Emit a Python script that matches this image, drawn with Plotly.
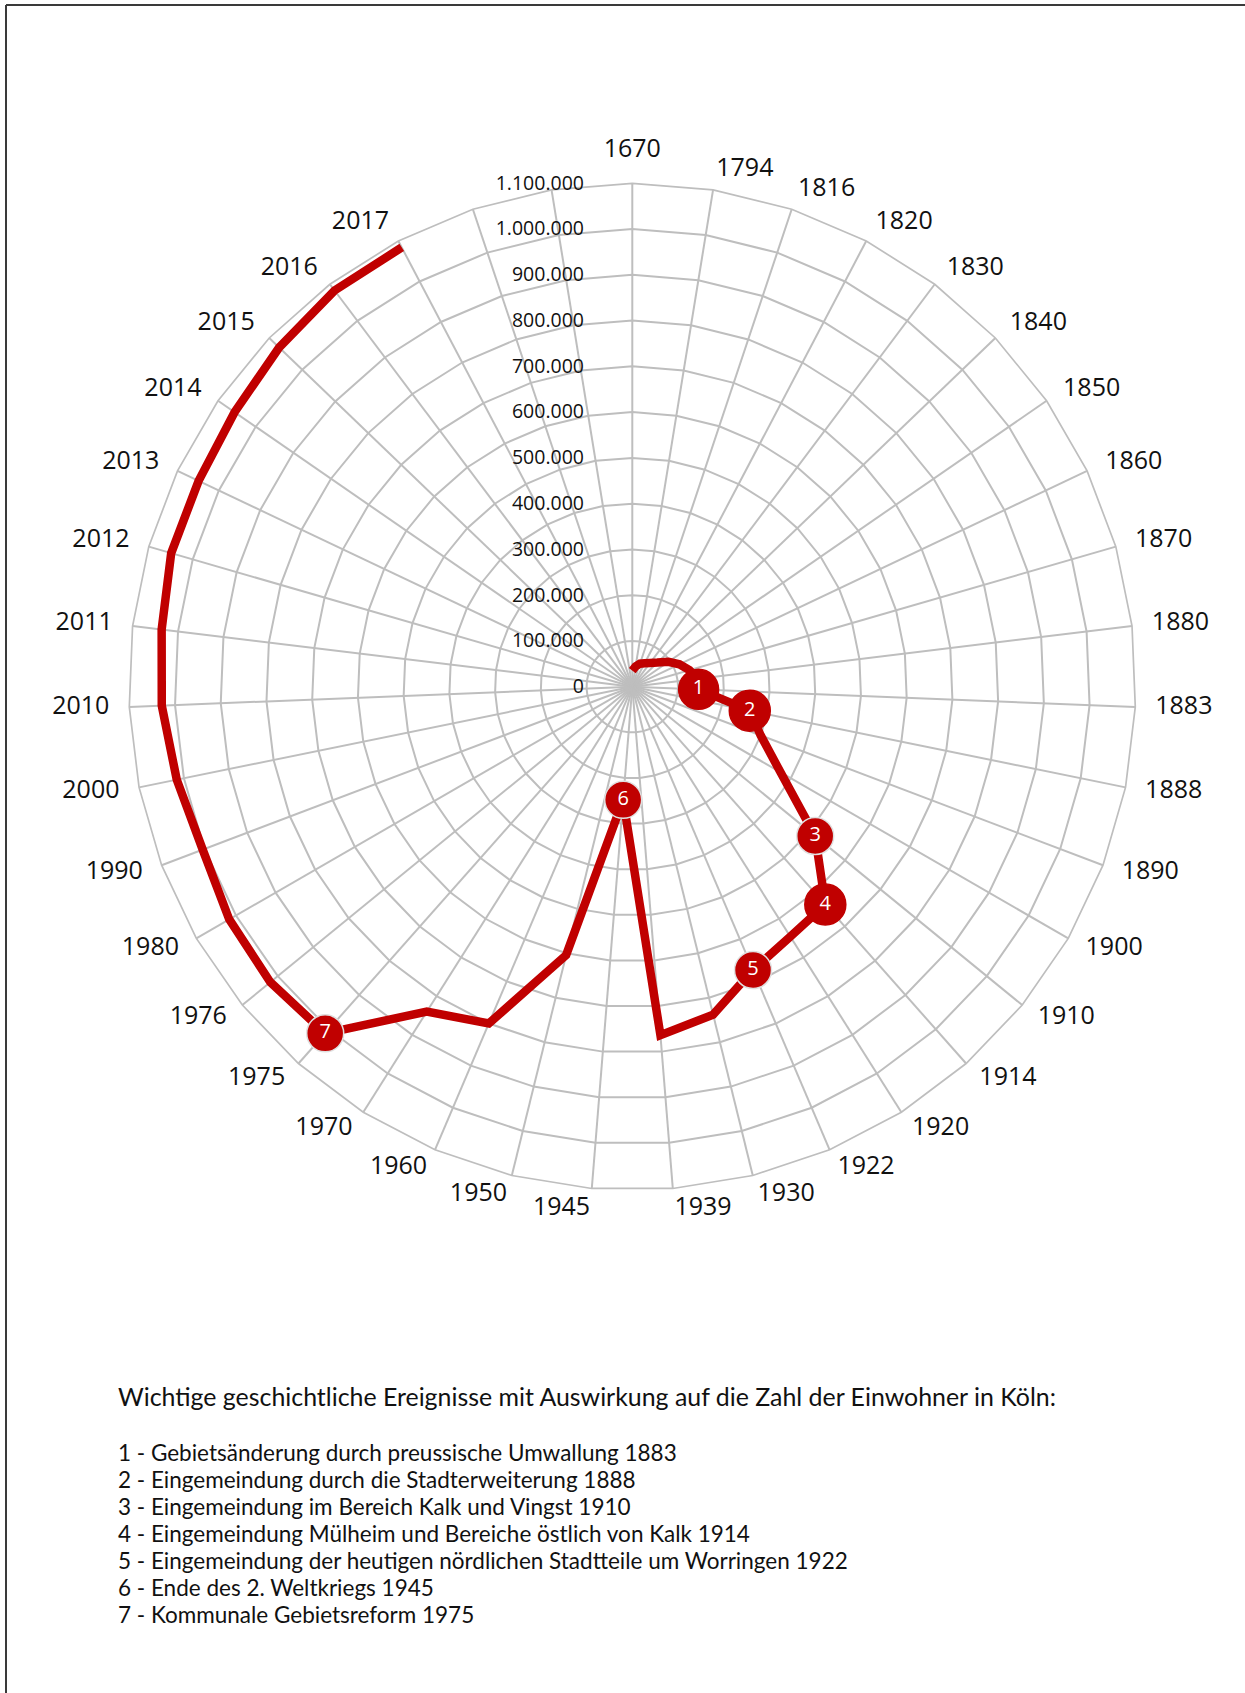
import plotly.graph_objects as go

# ---------------- data ----------------
years = ["1670", "1794", "1816", "1820", "1830", "1840", "1850", "1860", "1870", "1880",
         "1883", "1888", "1890", "1900", "1910", "1914", "1920", "1922", "1930", "1939",
         "1945", "1950", "1960", "1970", "1975", "1976", "1980", "1990", "2000", "2010",
         "2011", "2012", "2013", "2014", "2015", "2016", "2017"]
population = [35000, 45000, 53000, 58000, 65000, 76000, 96000, 114000, 130000, 144000,
              145000, 262000, 300000, 374000, 516000, 636000, 646000, 673000, 738000, 764000,
              248000, 604000, 800000, 840000, 1012000, 1021000, 1017000, 1004000, 1016000, 1029000,
              1036000, 1049000, 1049000, 1056000, 1070000, 1083000, 1084000]
blank_slots = [" ", "  "]          # two unlabeled spokes after 2017
event_years = ["1883", "1888", "1910", "1914", "1922", "1945", "1975"]
event_numbers = ["1", "2", "3", "4", "5", "6", "7"]
radial_ticks = list(range(0, 1100001, 100000))

title_text = "Wichtige geschichtliche Ereignisse mit Auswirkung auf die Zahl der Einwohner in Köln:"
event_texts = [
    "1 - Gebietsänderung durch preussische Umwallung 1883",
    "2 - Eingemeindung durch die Stadterweiterung 1888",
    "3 - Eingemeindung im Bereich Kalk und Vingst 1910",
    "4 - Eingemeindung Mülheim und Bereiche östlich von Kalk 1914",
    "5 - Eingemeindung der heutigen nördlichen Stadtteile um Worringen 1922",
    "6 - Ende des 2. Weltkriegs 1945",
    "7 - Kommunale Gebietsreform 1975",
]

# ---------------- styling ----------------
W, H = 1245, 1693
RED = "#C00000"
GRID = "#BEBEBE"
cx, cy, R = 632.3, 686.7, 503.4
R_MAX = 1100000
categories = years + blank_slots
pop_by_year = dict(zip(years, population))
event_r = [pop_by_year[y] for y in event_years]

# second (invisible) polar frame, same centre and same px-per-unit scale,
# slightly larger so the category labels sit inside its range
LABEL_PAD_PX = 20
R2 = R + 60
label_r = [R_MAX * (R + LABEL_PAD_PX) / R] * len(years)
label_pos = []
for i in range(len(years)):
    ang = i * 360.0 / len(categories)
    if ang < 1:
        label_pos.append("top center")
    elif ang < 180:
        label_pos.append("middle right")
    else:
        label_pos.append("middle left")


def dom(rad):
    return dict(x=[(cx - rad) / W, (cx + rad) / W], y=[1 - (cy + rad) / H, 1 - (cy - rad) / H])


fig = go.Figure()
# invisible traces registering all 39 spokes in both frames
for sp in ("polar", "polar2"):
    fig.add_trace(go.Scatterpolar(r=[0] * len(categories), theta=categories, mode="markers",
                                  marker=dict(size=1, opacity=0), hoverinfo="skip",
                                  showlegend=False, subplot=sp))
fig.add_trace(go.Scatterpolar(r=population, theta=years, mode="lines",
                              line=dict(color=RED, width=8.5), hoverinfo="skip", showlegend=False))
fig.add_trace(go.Scatterpolar(
    r=event_r, theta=event_years, mode="markers+text", text=event_numbers,
    textposition="middle center",
    textfont=dict(family="Open Sans", size=20, color="white"),
    marker=dict(size=[40, 41, 37, 41, 37, 37, 37], color=RED, opacity=1,
                line=dict(color=["#C00000", "#C00000", "#E0E0E0", "#C00000",
                                 "#E0E0E0", "#E0E0E0", "#E0E0E0"], width=1.5)),
    hoverinfo="skip", showlegend=False))
fig.add_trace(go.Scatterpolar(
    r=label_r, theta=years, mode="text", text=years, textposition=label_pos,
    textfont=dict(family="Open Sans", size=25, color="#111111"),
    hoverinfo="skip", showlegend=False, subplot="polar2"))

angular_common = dict(type="category", categoryorder="array", categoryarray=categories,
                      rotation=90, direction="clockwise")

fig.update_layout(
    width=W, height=H,
    margin=dict(l=0, r=0, t=0, b=0),
    paper_bgcolor="white",
    separators=",.",
    font=dict(family="Open Sans", color="#111111"),
    polar=dict(
        domain=dom(R),
        gridshape="linear",
        bgcolor="white",
        angularaxis=dict(**angular_common, showgrid=True, gridcolor=GRID,
                         gridwidth=1.7, showline=True, linecolor=GRID, linewidth=1.7,
                         ticks="", showticklabels=False),
        radialaxis=dict(range=[0, R_MAX], tickvals=radial_ticks, tickformat=",.0f",
                        showline=False, ticks="outside", ticklen=41, tickcolor="rgba(0,0,0,0)",
                        gridcolor=GRID, gridwidth=1.7,
                        angle=90, tickangle=90, side="counterclockwise",
                        tickfont=dict(family="Open Sans", size=19.5, color="#111111")),
    ),
    polar2=dict(
        domain=dom(R2),
        gridshape="linear",
        bgcolor="rgba(0,0,0,0)",
        angularaxis=dict(**angular_common, showgrid=False, showline=False, ticks="",
                         showticklabels=False),
        radialaxis=dict(range=[0, R_MAX * R2 / R], showgrid=False, showline=False, ticks="",
                        showticklabels=False),
    ),
)

# frame lines (left and top)
fig.add_shape(type="line", xref="paper", yref="paper", x0=6 / W, x1=6 / W, y0=0, y1=1 - 5 / H,
              line=dict(color="#3A3A3A", width=2))
fig.add_shape(type="line", xref="paper", yref="paper", x0=6 / W, x1=1, y0=1 - 5 / H, y1=1 - 5 / H,
              line=dict(color="#3A3A3A", width=2))

TXT_FONT = "Lato"
fig.add_annotation(text=title_text, xref="paper", yref="paper", x=116 / W, y=1 - 1396 / H,
                   xanchor="left", yanchor="middle", showarrow=False,
                   font=dict(family=TXT_FONT, size=24.9, color="#111111"))
for i, t in enumerate(event_texts):
    fig.add_annotation(text=t, xref="paper", yref="paper", x=116 / W, y=1 - (1452 + 27 * i) / H,
                       xanchor="left", yanchor="middle", showarrow=False,
                       font=dict(family=TXT_FONT, size=22.5, color="#111111"))

fig.write_html("out.html", config={"displayModeBar": False},
               post_script="document.body.style.margin='0px';")
